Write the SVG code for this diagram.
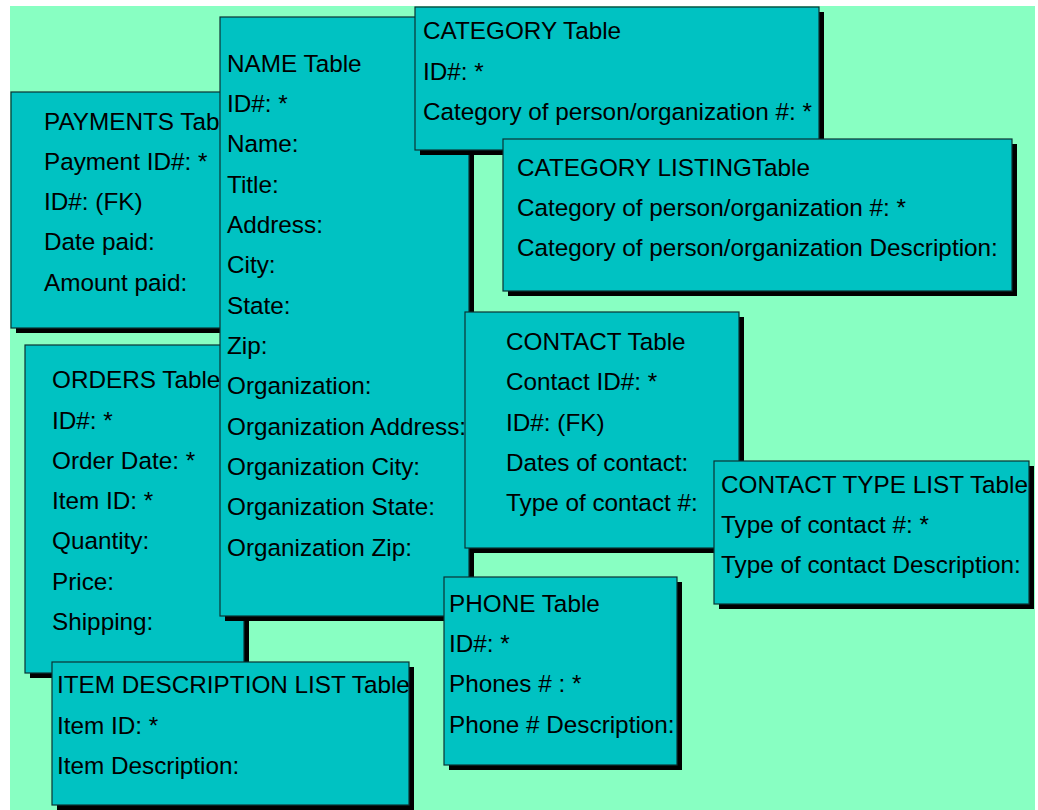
<svg xmlns="http://www.w3.org/2000/svg" width="1038" height="810" viewBox="0 0 1038 810">
<style>
.bg{fill:#88FFC2}
.sh{fill:#000}
.box{fill:#00C2C2;stroke:#0A3333;stroke-width:1.2}
text{font-family:"Liberation Sans",Arial,sans-serif;font-size:24.3px;fill:#000}
</style>
<rect x="0" y="0" width="1038" height="810" fill="#fff"/>
<rect class="bg" x="10" y="6" width="1025" height="804"/>
<g id="payments">
<rect class="sh" x="16" y="97" width="230" height="236"/>
<rect class="box" x="11" y="92" width="230" height="236"/>
<text x="44" y="130">PAYMENTS Table</text>
<text x="44" y="170">Payment ID#: *</text>
<text x="44" y="210">ID#: (FK)</text>
<text x="44" y="250">Date paid:</text>
<text x="44" y="291">Amount paid:</text>
</g>
<g id="orders">
<rect class="sh" x="30" y="350" width="219" height="328"/>
<rect class="box" x="25" y="345" width="219" height="328"/>
<text x="52" y="388">ORDERS Table</text>
<text x="52" y="429">ID#: *</text>
<text x="52" y="469">Order Date: *</text>
<text x="52" y="509">Item ID: *</text>
<text x="52" y="549">Quantity:</text>
<text x="52" y="590">Price:</text>
<text x="52" y="630">Shipping:</text>
</g>
<g id="name">
<rect class="sh" x="225" y="22" width="249" height="599"/>
<rect class="box" x="220" y="17" width="249" height="599"/>
<text x="227" y="72">NAME Table</text>
<text x="227" y="112">ID#: *</text>
<text x="227" y="152">Name:</text>
<text x="227" y="193">Title:</text>
<text x="227" y="233">Address:</text>
<text x="227" y="273">City:</text>
<text x="227" y="314">State:</text>
<text x="227" y="354">Zip:</text>
<text x="227" y="394">Organization:</text>
<text x="227" y="435">Organization Address:</text>
<text x="227" y="475">Organization City:</text>
<text x="227" y="515">Organization State:</text>
<text x="227" y="556">Organization Zip:</text>
</g>
<g id="item-description-list">
<rect class="sh" x="57" y="667" width="357" height="143"/>
<rect class="box" x="52" y="662" width="357" height="143"/>
<text x="57" y="693">ITEM DESCRIPTION LIST Table</text>
<text x="57" y="734">Item ID: *</text>
<text x="57" y="774">Item Description:</text>
</g>
<g id="category">
<rect class="sh" x="420" y="12" width="404" height="143"/>
<rect class="box" x="415" y="7" width="404" height="143"/>
<text x="423" y="39">CATEGORY Table</text>
<text x="423" y="80">ID#: *</text>
<text x="423" y="120">Category of person/organization #: *</text>
</g>
<g id="category-listing">
<rect class="sh" x="508" y="144" width="509" height="152"/>
<rect class="box" x="503" y="139" width="509" height="152"/>
<text x="517" y="176">CATEGORY LISTINGTable</text>
<text x="517" y="216">Category of person/organization #: *</text>
<text x="517" y="256">Category of person/organization Description:</text>
</g>
<g id="contact">
<rect class="sh" x="470" y="317" width="274" height="236"/>
<rect class="box" x="465" y="312" width="274" height="236"/>
<text x="506" y="350">CONTACT Table</text>
<text x="506" y="390">Contact ID#: *</text>
<text x="506" y="431">ID#: (FK)</text>
<text x="506" y="471">Dates of contact:</text>
<text x="506" y="511">Type of contact #:</text>
</g>
<g id="contact-type-list">
<rect class="sh" x="719" y="466" width="315" height="143"/>
<rect class="box" x="714" y="461" width="315" height="143"/>
<text x="721" y="493">CONTACT TYPE LIST Table</text>
<text x="721" y="533">Type of contact #: *</text>
<text x="721" y="573">Type of contact Description:</text>
</g>
<g id="phone">
<rect class="sh" x="449" y="582" width="233" height="188"/>
<rect class="box" x="444" y="577" width="233" height="188"/>
<text x="449" y="612">PHONE Table</text>
<text x="449" y="652">ID#: *</text>
<text x="449" y="692">Phones # : *</text>
<text x="449" y="733">Phone # Description:</text>
</g>
<g id="connectors"></g>
</svg>
